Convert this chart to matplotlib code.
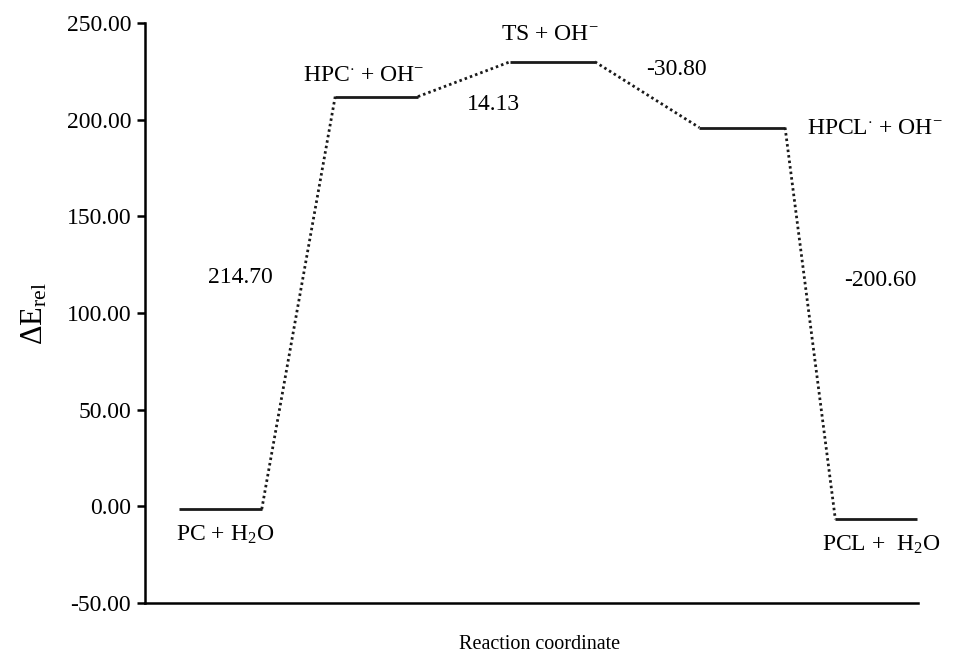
#importing libraries
import matplotlib
matplotlib.use("Agg")
from matplotlib import pyplot as plt

plt.rcParams['font.family'] = ['Liberation Serif', 'DejaVu Serif']
plt.rcParams['mathtext.fontset'] = 'custom'
plt.rcParams['mathtext.rm'] = 'Liberation Serif'
plt.rcParams['mathtext.it'] = 'Liberation Serif:italic'
plt.rcParams['axes.unicode_minus'] = False

###########################################################
#data
species = ["PC + H$_2$O", "HPC$^{\\cdot}$ + OH$^{-}$", "TS + OH$^{-}$",
           "HPCL$^{\\cdot}$ + OH$^{-}$", "PCL +  H$_2$O"]
energy = [-1.5, 211.9, 229.9, 195.9, -6.7]      #level heights
step_labels = ["214.70", "14.13", "-30.80", "-200.60"]
yticks = [-50, 0, 50, 100, 150, 200, 250]

#layout (reaction coordinate units 0..100)
level_start = [4.4, 24.6, 47.2, 71.7, 89.3]
level_width = [10.7, 10.7, 11.0, 11.1, 10.6]
species_pos = [(10.3, -15.0, 'center'), (28.3, 223.0, 'center'), (52.4, 244.0, 'center'),
               (85.6, 195.4, 'left'), (87.6, -20.0, 'left')]
step_pos = [(12.3, 118.6), (45.1, 207.7), (68.7, 225.8), (95.1, 117.0)]

###########################################################
fig = plt.figure(figsize=(9.56, 6.54), dpi=100)
ax = fig.add_axes([0.1517, 0.078, 0.8086, 0.8869])

#levels
for i in range(len(energy)):
    x0 = level_start[i]
    x1 = x0 + level_width[i]
    ax.plot([x0, x1], [energy[i], energy[i]], color='#1a1a1a', lw=2.0,
            solid_capstyle='butt')

#dotted connectors
for i in range(len(energy) - 1):
    x0 = level_start[i] + level_width[i]
    x1 = level_start[i + 1]
    ax.plot([x0, x1], [energy[i], energy[i + 1]], color='#1a1a1a', lw=2.0,
            linestyle=(0, (0.9, 1.1)))

#texts
for i in range(len(species)):
    x, y, ha = species_pos[i]
    ax.text(x, y, species[i], fontsize=17, ha=ha, va='center', clip_on=False)
for i in range(len(step_labels)):
    x, y = step_pos[i]
    ax.text(x, y, step_labels[i], fontsize=17, ha='center', va='center')

#axes
ax.set_xlim(0, 100)
ax.set_ylim(-50, 250)
ax.set_yticks(yticks)
ax.set_yticklabels(["%.2f" % v for v in yticks], fontsize=17)
ax.set_xticks([])
ax.spines['top'].set_visible(False)
ax.spines['right'].set_visible(False)
ax.spines['left'].set_linewidth(1.8)
ax.spines['bottom'].set_linewidth(1.8)
ax.tick_params(axis='y', direction='out', length=6, width=1.8, pad=4)

ax.set_ylabel("$\\Delta$E$_{\\mathrm{rel}}$", fontsize=22)
ax.yaxis.set_label_coords(-0.124, 0.498)
ax.set_xlabel("Reaction coordinate", fontsize=14.5)
ax.xaxis.set_label_coords(0.511, -0.056)

fig.savefig("out.png", dpi=100)
